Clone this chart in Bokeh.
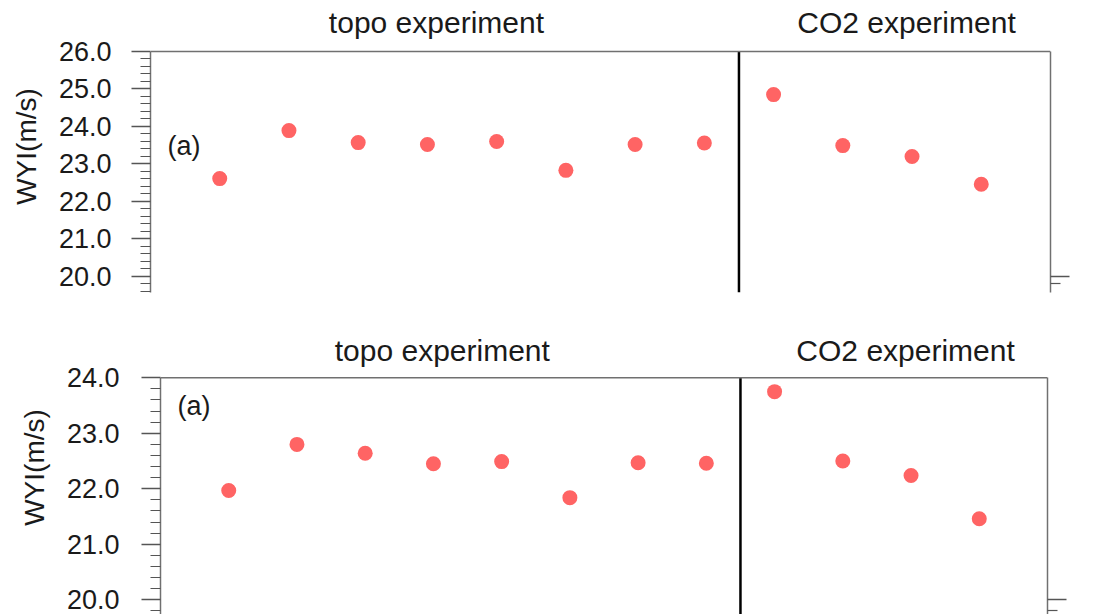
from bokeh.plotting import figure
from bokeh.models import Range1d, LinearAxis, FixedTicker, Span, Label, NumeralTickFormatter, CustomJSTickFormatter
from bokeh.embed import file_html
from bokeh.resources import INLINE
import numpy as np

# ---- data ----
topo_x = [0, 1, 2, 3, 4, 5, 6, 7]
co2_x = [8, 9, 10, 11]

topo_top = [22.61, 23.89, 23.57, 23.52, 23.60, 22.83, 23.52, 23.56]
co2_top = [24.85, 23.49, 23.20, 22.46]

topo_bot = [21.97, 22.80, 22.64, 22.45, 22.49, 21.84, 22.47, 22.46]
co2_bot = [23.75, 22.50, 22.24, 21.46]

yticks_top = [20, 21, 22, 23, 24, 25, 26]
yticks_bot = [20, 21, 22, 23, 24]
titles = ["topo experiment", "CO2 experiment"]
panel_tag = "(a)"

FONT = "Liberation Sans"
DOT = "#ff6464"
AX = "#707070"
TK = "#555555"
TXT = "#1a1a1a"


def style_axis(ax):
    ax.axis_line_color = AX
    ax.axis_line_width = 1.5
    ax.major_tick_line_color = TK
    ax.major_tick_line_width = 1.5
    ax.minor_tick_line_color = TK
    ax.minor_tick_line_width = 1.2
    ax.major_tick_in = 0
    ax.major_tick_out = 19
    ax.minor_tick_in = 0
    ax.minor_tick_out = 10


def panel(topo_vals, co2_vals, yticks, ystart, ytop, height, bl, bb, br,
          title_off, a_off, standoff):
    yend = yticks[-1]
    p = figure(width=1097, height=height,
               x_range=Range1d(-1, 12), y_range=Range1d(ystart, ytop),
               output_backend="svg", toolbar_location=None,
               x_axis_location=None, y_axis_location=None,
               min_border_left=bl, min_border_top=0,
               min_border_bottom=bb, min_border_right=br)
    p.outline_line_color = None
    p.grid.grid_line_color = None
    p.background_fill_color = "white"
    p.border_fill_color = "white"

    minor = [round(v, 1) for v in np.arange(19.0, yend, 0.2) if round(v, 1) not in yticks]
    left = LinearAxis(ticker=FixedTicker(ticks=yticks, minor_ticks=minor),
                      formatter=NumeralTickFormatter(format="0.0"),
                      axis_label="WYI(m/s)", bounds=(ystart, yend))
    style_axis(left)
    left.major_label_text_font = FONT
    left.major_label_text_font_size = "27px"
    left.major_label_text_color = TXT
    left.major_label_standoff = standoff
    left.axis_label_text_font = FONT
    left.axis_label_text_font_size = "28px"
    left.axis_label_text_font_style = "normal"
    left.axis_label_text_color = TXT
    left.axis_label_standoff = 14
    p.add_layout(left, "left")

    right = LinearAxis(ticker=FixedTicker(ticks=[20.0], minor_ticks=[19.8]),
                       formatter=CustomJSTickFormatter(code="return ''"),
                       bounds=(ystart, yend))
    style_axis(right)
    p.add_layout(right, "right")

    # top border of the plotting box
    p.add_layout(Span(location=yend, dimension="width", line_color=AX, line_width=1.5))

    # separator between the two experiment groups
    sep = len(topo_x) - 0.5
    p.segment(x0=[sep], y0=[ystart], x1=[sep], y1=[yend], line_color="black", line_width=2.5)

    p.scatter(topo_x, topo_vals, size=15, fill_color=DOT, line_color=None)
    p.scatter(co2_x, co2_vals, size=15, fill_color=DOT, line_color=None)

    for xc, txt in [(3.13, titles[0]), (9.92, titles[1])]:
        p.add_layout(Label(x=xc, y=yend, y_offset=title_off, text=txt,
                           text_align="center", text_baseline="middle",
                           text_font=FONT, text_font_size="30px", text_color=TXT))
    p.add_layout(Label(x=-1, x_offset=17, y=yend, y_offset=a_off, text=panel_tag,
                       text_align="left", text_baseline="middle",
                       text_font=FONT, text_font_size="27px", text_color=TXT))
    return p


# top panel: frame x 150..1050, y 0..292 px, 26.0 at 51 px, 37.5 px per unit
p1 = panel(topo_top, co2_top, yticks_top, 19.573, 27.36, 320, 150, 28, 47, 29, -95, 20)
# bottom panel: frame x 160..1047, y 0..294 px, 24.0 at 57.3 px, 55.5 px per unit
p2 = panel(topo_bot, co2_bot, yticks_bot, 19.735, 25.032, 294, 160, 0, 50, 27.3, -28, 22)

p = [p1, p2]
open("out.html", "w").write(file_html(p, INLINE))
